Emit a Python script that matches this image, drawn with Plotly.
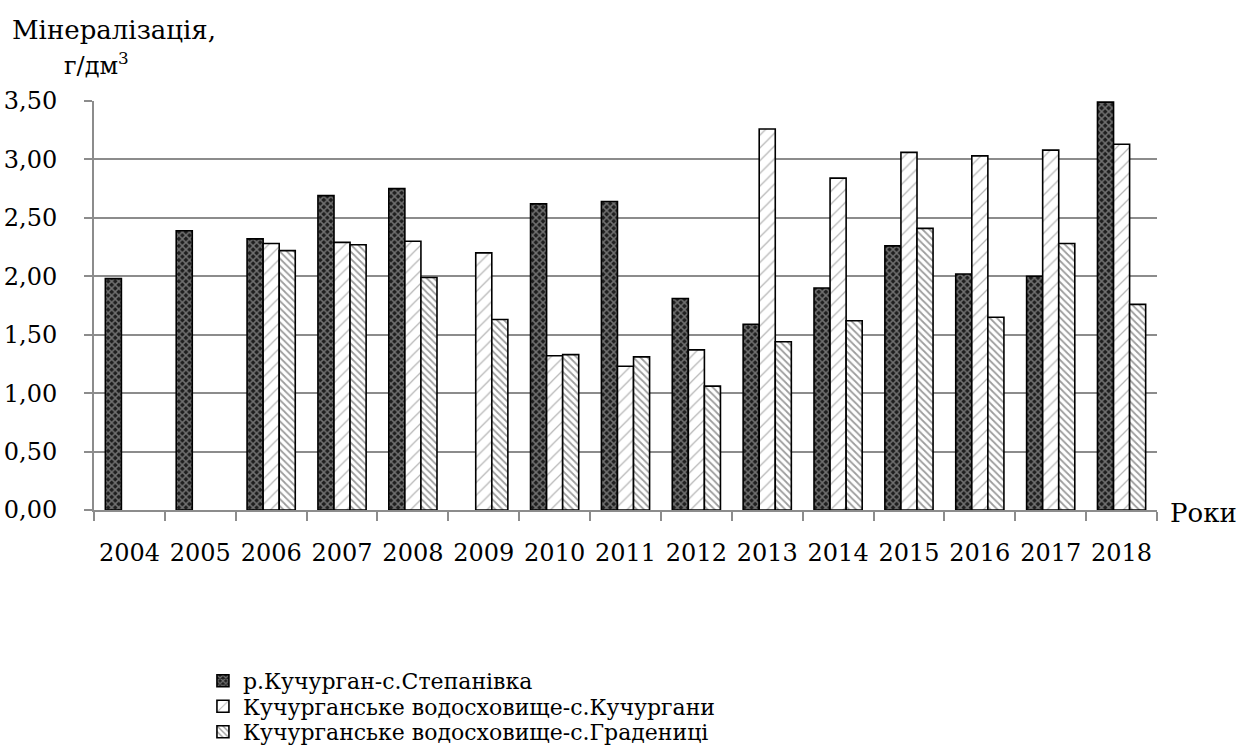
import plotly.graph_objects as go

years = ["2004", "2005", "2006", "2007", "2008", "2009", "2010", "2011",
         "2012", "2013", "2014", "2015", "2016", "2017", "2018"]

stepanivka = [1.98, 2.39, 2.32, 2.69, 2.75, None, 2.62, 2.64,
              1.81, 1.59, 1.90, 2.26, 2.02, 2.00, 3.49]
kuchurhany = [None, None, 2.28, 2.29, 2.30, 2.20, 1.32, 1.23,
              1.37, 3.26, 2.84, 3.06, 3.03, 3.08, 3.13]
hradenytsi = [None, None, 2.22, 2.27, 1.99, 1.63, 1.33, 1.31,
              1.06, 1.44, 1.62, 2.41, 1.65, 2.28, 1.76]

series_names = [
    "р.Кучурган-с.Степанівка",
    "Кучурганське водосховище-с.Кучургани",
    "Кучурганське водосховище-с.Градениці",
]

y_ticks = [0, 0.5, 1.0, 1.5, 2.0, 2.5, 3.0, 3.5]
y_tick_text = ["0,00", "0,50", "1,00", "1,50", "2,00", "2,50", "3,00", "3,50"]

FONT = "DejaVu Serif"

patterns = [
    dict(shape="x", bgcolor="#1e1e1e", fgcolor="#c4c4c4", size=5, solidity=0.5),
    dict(shape="/", bgcolor="white", fgcolor="#707070", size=9, solidity=0.14),
    dict(shape="\\", bgcolor="white", fgcolor="#3a3a3a", size=5, solidity=0.35),
]

# one legend box per series so the rows can sit close together
legend_ids = ["legend", "legend2", "legend3"]
legend_rows_y = [0.0871, 0.0530, 0.0188]

fig = go.Figure()
for name, vals, pat, lid in zip(series_names,
                                [stepanivka, kuchurhany, hradenytsi],
                                patterns, legend_ids):
    fig.add_trace(go.Bar(
        x=years, y=vals, name=name, legend=lid,
        marker=dict(color="white", pattern=pat,
                    line=dict(color="black", width=1.6)),
    ))

legend_style = dict(
    xref="container", yref="container",
    xanchor="left", yanchor="middle",
    font=dict(family=FONT, size=22, color="black"),
    itemwidth=30, bgcolor="rgba(0,0,0,0)",
)
legend_layouts = {
    lid: dict(legend_style, x=0.1634, y=ly)
    for lid, ly in zip(legend_ids, legend_rows_y)
}

fig.update_layout(
    barmode="group",
    bargap=0.32,
    bargroupgap=0,
    width=1242, height=746,
    margin=dict(l=94, r=85, t=101, b=236, autoexpand=False),
    paper_bgcolor="white", plot_bgcolor="white",
    font=dict(family=FONT, size=24, color="black"),
    showlegend=True,
    xaxis=dict(
        type="category", showgrid=False,
        showline=True, linecolor="#8c8c8c", linewidth=2,
        ticks="outside", tickson="boundaries", ticklen=9,
        tickcolor="#8c8c8c", tickwidth=2,
        tickangle=0, ticklabelstandoff=20,
        tickfont=dict(family=FONT, size=24),
    ),
    yaxis=dict(
        range=[0, 3.5], tickvals=y_ticks, ticktext=y_tick_text,
        showgrid=True, gridcolor="#8c8c8c", gridwidth=2,
        showline=True, linecolor="#8c8c8c", linewidth=2,
        ticks="outside", ticklen=8, tickcolor="#8c8c8c", tickwidth=2,
        ticklabelstandoff=22,
        tickfont=dict(family=FONT, size=24),
        zeroline=False,
    ),
    annotations=[
        dict(text="Мінералізація,", xref="paper", yref="paper",
             x=-0.079, y=1.1736, xanchor="left", yanchor="middle",
             showarrow=False, font=dict(family=FONT, size=26)),
        dict(text="г/дм<sup>3</sup>", xref="paper", yref="paper",
             x=-0.030, y=1.09, xanchor="left", yanchor="middle",
             showarrow=False, font=dict(family=FONT, size=24)),
        dict(text="Роки", xref="paper", yref="paper",
             x=1.0103, y=-0.007, xanchor="left", yanchor="middle",
             showarrow=False, font=dict(family=FONT, size=26)),
    ],
    **legend_layouts,
)

fig.write_html("out.html")
